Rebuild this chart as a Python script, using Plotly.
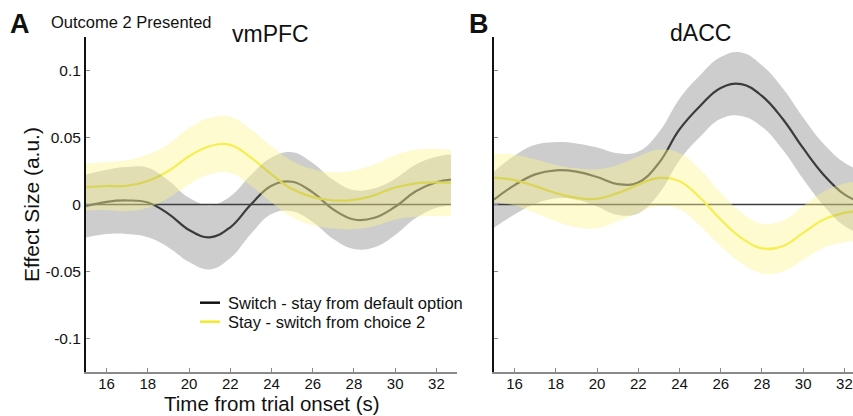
import plotly.graph_objects as go

# ---------------- data ----------------
t_left = [15, 16, 17, 18, 19, 20, 21, 22, 23, 24, 25, 26, 27, 28, 29, 30, 31, 32, 32.7]
vm_switch = [-0.0012, 0.002, 0.003, 0.0015, -0.007, -0.019, -0.0245, -0.017, 0.0, 0.014,
             0.017, 0.009, -0.0037, -0.0112, -0.0099, -0.0017, 0.0099, 0.0166, 0.0185]
vm_switch_sem = [0.0235, 0.024, 0.025, 0.026, 0.025, 0.024, 0.024, 0.023, 0.022, 0.021,
                 0.022, 0.022, 0.022, 0.022, 0.022, 0.021, 0.020, 0.019, 0.019]
vm_stay = [0.013, 0.0138, 0.014, 0.0175, 0.025, 0.036, 0.0435, 0.0445, 0.035, 0.0225,
           0.0115, 0.0055, 0.003, 0.0035, 0.007, 0.0127, 0.0158, 0.0165, 0.016]
vm_stay_sem = [0.0175, 0.018, 0.019, 0.020, 0.020, 0.021, 0.021, 0.021, 0.021, 0.021,
               0.021, 0.021, 0.021, 0.022, 0.023, 0.024, 0.025, 0.025, 0.025]

t_right = [15, 16, 17, 18, 19, 20, 21, 22, 23, 24, 25, 26, 27, 28, 29, 30, 31, 32, 32.6]
dacc_switch = [0.0037, 0.0145, 0.0225, 0.0255, 0.0245, 0.0205, 0.0152, 0.0165, 0.031, 0.056,
               0.0735, 0.087, 0.0898, 0.081, 0.064, 0.042, 0.0221, 0.0075, 0.003]
dacc_switch_sem = [0.021, 0.022, 0.022, 0.021, 0.021, 0.022, 0.023, 0.023, 0.023, 0.023,
                   0.023, 0.023, 0.0237, 0.023, 0.023, 0.023, 0.023, 0.0236, 0.0236]
dacc_stay = [0.0201, 0.0182, 0.0137, 0.0085, 0.005, 0.0043, 0.0085, 0.0149, 0.0198, 0.0174,
             0.005, -0.0112, -0.0249, -0.0328, -0.0311, -0.0212, -0.0112, -0.0063, -0.005]
dacc_stay_sem = [0.018, 0.019, 0.020, 0.021, 0.022, 0.022, 0.021, 0.021, 0.021, 0.021,
                 0.021, 0.020, 0.019, 0.0185, 0.019, 0.020, 0.021, 0.022, 0.022]

x_ticks = [16, 18, 20, 22, 24, 26, 28, 30, 32]
y_ticks = [-0.1, -0.05, 0, 0.05, 0.1]
y_tick_labels = ["-0.1", "-0.05", "0", "0.05", "0.1"]

series_names = ["Switch - stay from default option", "Stay - switch from choice 2"]
panel_titles = ["vmPFC", "dACC"]
x_title = "Time from trial onset (s)"

# ---------------- style ----------------
FONT = "Arial, Liberation Sans, sans-serif"
DARK = "#383838"
YEL = "#f3ea2a"
GRAY_BAND = "rgba(70,70,70,0.27)"
YEL_BAND = "rgba(250,245,140,0.42)"
W, H = 853, 416

fig = go.Figure()


def add_panel(t, sw, sw_sem, st, st_sem, xa, ya):
    # zero reference line
    fig.add_trace(go.Scatter(x=[t[0], t[-1]], y=[0, 0], mode="lines",
                             line=dict(color="#3c3c3c", width=1.6),
                             xaxis=xa, yaxis=ya, showlegend=False, hoverinfo="skip"))
    # mean lines
    fig.add_trace(go.Scatter(x=t, y=sw, mode="lines",
                             line=dict(color=DARK, width=2.2, shape="spline", smoothing=1.2),
                             xaxis=xa, yaxis=ya, showlegend=False))
    fig.add_trace(go.Scatter(x=t, y=st, mode="lines",
                             line=dict(color=YEL, width=2.2, shape="spline", smoothing=1.2),
                             xaxis=xa, yaxis=ya, showlegend=False))
    # bands (drawn on top, translucent)
    for m, s, col in ((sw, sw_sem, GRAY_BAND), (st, st_sem, YEL_BAND)):
        lo = [a - b for a, b in zip(m, s)]
        hi = [a + b for a, b in zip(m, s)]
        fig.add_trace(go.Scatter(x=t, y=lo, mode="lines",
                                 line=dict(color="rgba(0,0,0,0)", width=0, shape="spline", smoothing=1.2),
                                 xaxis=xa, yaxis=ya, showlegend=False, hoverinfo="skip"))
        fig.add_trace(go.Scatter(x=t, y=hi, mode="lines", fill="tonexty", fillcolor=col,
                                 line=dict(color="rgba(0,0,0,0)", width=0, shape="spline", smoothing=1.2),
                                 xaxis=xa, yaxis=ya, showlegend=False, hoverinfo="skip"))


add_panel(t_left, vm_switch, vm_switch_sem, vm_stay, vm_stay_sem, "x", "y")
add_panel(t_right, dacc_switch, dacc_switch_sem, dacc_stay, dacc_stay_sem, "x2", "y2")

px_per_unit = (457 - 86) / 18.0
right_end = 15 + (W - 494) / px_per_unit

xcommon = dict(tickmode="array", tickvals=x_ticks, ticks="inside", ticklen=4, tickwidth=1,
               tickcolor="#888", showline=True, linecolor="#8a8a8a", linewidth=1.6,
               showgrid=False, zeroline=False, ticklabeloverflow="allow",
               ticklabelstandoff=-3,
               tickfont=dict(family=FONT, size=15, color="#111"))
ycommon = dict(tickmode="array", tickvals=y_ticks, ticks="inside", ticklen=4, tickwidth=1,
               tickcolor="#888", showline=True, linecolor="#111", linewidth=2,
               showgrid=False, zeroline=False, range=[-0.125, 0.125],
               tickfont=dict(family=FONT, size=15.5, color="#111"))

ydom = [44 / H, 379 / H]
fig.update_layout(
    width=W, height=H, autosize=False,
    margin=dict(l=0, r=0, t=0, b=0),
    paper_bgcolor="white", plot_bgcolor="white",
    showlegend=False,
    xaxis=dict(domain=[86 / W, 457 / W], range=[15, 33], anchor="y", **xcommon),
    yaxis=dict(domain=ydom, anchor="x", ticktext=y_tick_labels,
               title=dict(text="Effect Size (a.u.)", standoff=0,
                          font=dict(family=FONT, size=21, color="#111")), **ycommon),
    xaxis2=dict(domain=[494 / W, 1.0], range=[15, right_end], anchor="y2", **xcommon),
    yaxis2=dict(domain=ydom, anchor="x2", showticklabels=False, **ycommon),
)


def px(xp, yp):
    return xp / W, 1 - yp / H


annots = [
    ("A", 19.5, 24, 27, True),
    ("B", 479, 24, 27, True),
    ("Outcome 2 Presented", 131, 22, 16.5, False),
    (panel_titles[0], 270, 34, 23, False),
    (panel_titles[1], 700, 33, 23, False),
]
for text, xp, yp, size, bold in annots:
    ax_, ay_ = px(xp, yp)
    fig.add_annotation(x=ax_, y=ay_, xref="paper", yref="paper", showarrow=False,
                       text=f"<b>{text}</b>" if bold else text,
                       xanchor="center", yanchor="middle",
                       font=dict(family=FONT, size=size, color="#111"))

# x-axis title placed under the left panel, close to the bottom edge like the reference
xt, _ = px(272, 0)
fig.add_annotation(x=xt, y=0, xref="paper", yref="paper", showarrow=False, text=x_title,
                   xanchor="center", yanchor="bottom", yshift=-1,
                   font=dict(family=FONT, size=20.5, color="#111"))

# legend (manual, to match the compact reference legend)
for name, col, yp in ((series_names[0], "#111111", 302.7), (series_names[1], YEL, 321.7)):
    x0, yy = px(200, yp)
    x1, _ = px(220, yp)
    fig.add_shape(type="line", xref="paper", yref="paper", x0=x0, x1=x1, y0=yy, y1=yy,
                  line=dict(color=col, width=2.5))
    tx, _ = px(226, yp)
    fig.add_annotation(x=tx, y=yy, xref="paper", yref="paper", showarrow=False, text=name,
                       xanchor="left", yanchor="middle",
                       font=dict(family=FONT, size=16.5, color="#111"))

fig.write_html("out.html", config={"displayModeBar": False},
               post_script="document.body.style.margin='0';document.body.style.padding='0';"
                           "document.body.style.overflow='hidden';")
